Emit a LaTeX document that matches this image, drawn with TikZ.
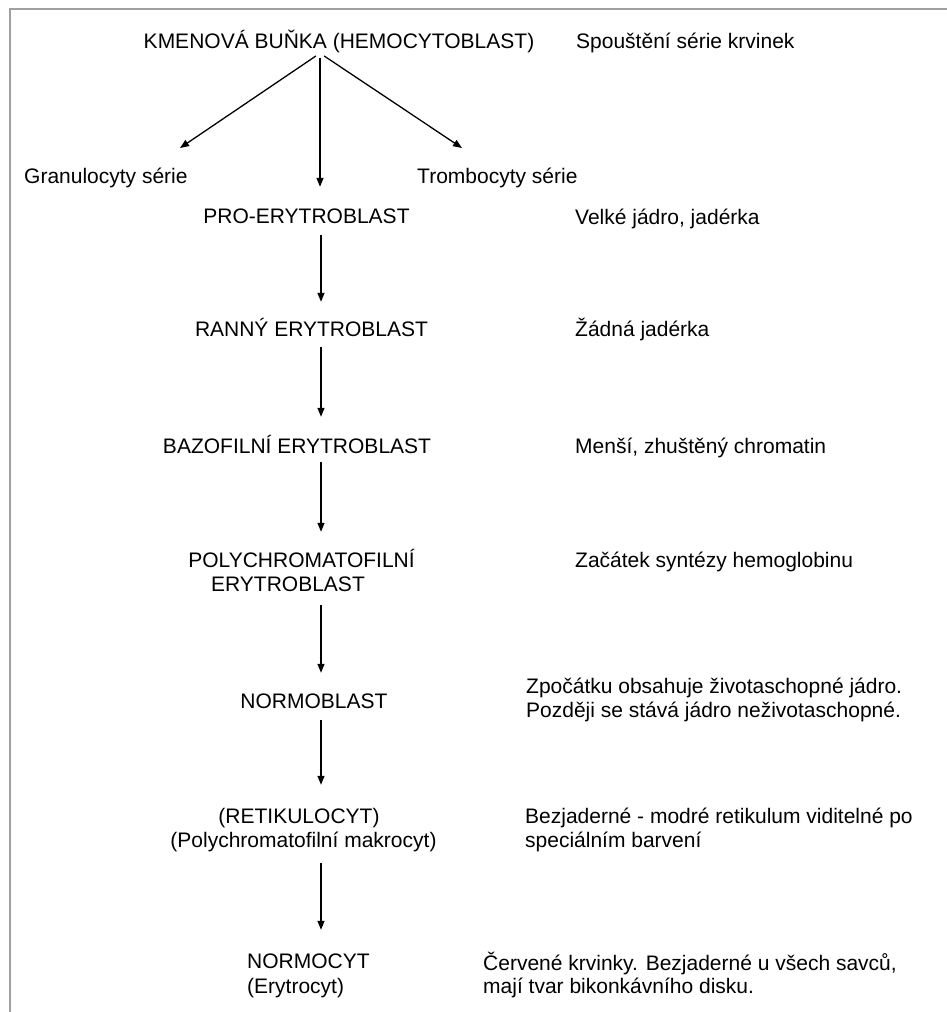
\documentclass[tikz,border=0pt]{standalone}
\usepackage{fontspec}
\setmainfont{Liberation Sans}
\usetikzlibrary{arrows.meta}
\definecolor{framegray}{RGB}{160,160,160}
\tikzset{
  txt/.style={inner sep=0pt, text height=15pt, text depth=5pt, font=\fontsize{21}{25}\selectfont, text=black},
  ctr/.style={txt, anchor=base},
  lft/.style={txt, anchor=base west},
  arr/.style={line width=1.3pt, draw=black, -{Triangle[length=9pt,width=7pt]}},
  frameline/.style={line width=2.5pt, draw=framegray}
}
\begin{document}
\begin{tikzpicture}[x=1pt,y=-1pt]
\useasboundingbox (0,0) rectangle (947,1012);
\draw[frameline] (10,1012) -- (10,9) -- (947,9);

\coordinate (col) at (321,0);
\coordinate (split) at (320,58);
\coordinate (gtip) at (180,148);
\coordinate (ttip) at (462,148);

% left column
\node[ctr] (title) at (339,48) {KMENOVÁ BUŇKA (HEMOCYTOBLAST)};
\node[lft] (gran) at (24,183) {Granulocyty série};
\node[lft] (tromb) at (417,183) {Trombocyty série};
\node[ctr] (pro) at (306.5,223) {PRO-ERYTROBLAST};
\node[ctr] (ranny) at (311.5,336) {RANNÝ ERYTROBLAST};
\node[ctr] (baz) at (297,453) {BAZOFILNÍ ERYTROBLAST};
\node[ctr] (poly1) at (301.5,567) {POLYCHROMATOFILNÍ};
\node[ctr] (poly2) at (288,591) {ERYTROBLAST};
\node[ctr] (normob) at (314,708) {NORMOBLAST};
\node[ctr] (ret1) at (299,823) {(RETIKULOCYT)};
\node[ctr] (ret2) at (303.5,847) {(Polychromatofilní makrocyt)};
\node[lft] (ncyt1) at (247,968) {NORMOCYT};
\node[lft] (ncyt2) at (247,993) {(Erytrocyt)};

% right column
\node[lft] (spoust) at (576,48) {Spouštění série krvinek};
\node[lft] (velke) at (575,224) {Velké jádro, jadérka};
\node[lft] (zadna) at (575,336) {Žádná jadérka};
\node[lft] (mensi) at (575,453) {Menší, zhuštěný chromatin};
\node[lft] (zacatek) at (575,567) {Začátek syntézy hemoglobinu};
\node[lft] (zpoc1) at (526,693) {Zpočátku obsahuje životaschopné jádro.};
\node[lft] (zpoc2) at (526,717) {Později se stává jádro neživotaschopné.};
\node[lft] (bez1) at (525,823) {Bezjaderné - modré retikulum viditelné po};
\node[lft] (bez2) at (525,847) {speciálním barvení};
\node[lft] (cerv1) at (483,970) {Červené krvinky. Bezjaderné u všech savců,};
\node[lft] (cerv2) at (483,993) {mají tvar bikonkávního disku.};

% connectors
\draw[arr, shorten <=5pt] (title.south -| split) -- (gtip);
\draw[arr, shorten <=5pt] (title.south -| split) -- (ttip);
\draw[arr, shorten <=5pt, shorten >=21pt] (title.south -| split) -- (pro.north -| split);
\draw[arr, shorten <=7pt, shorten >=19pt] (pro.south -| col) -- (ranny.north -| col);
\draw[arr, shorten <=6pt, shorten >=21pt] (ranny.south -| col) -- (baz.north -| col);
\draw[arr, shorten <=4pt, shorten >=20pt] (baz.south -| col) -- (poly1.north -| col);
\draw[arr, shorten <=9pt, shorten >=20pt] (poly2.south -| col) -- (normob.north -| col);
\draw[arr, shorten <=7pt, shorten >=23pt] (normob.south -| col) -- (ret1.north -| col);
\draw[arr, shorten <=11pt, shorten >=23pt] (ret2.south -| col) -- (ncyt1.north -| col);
\end{tikzpicture}
\end{document}
